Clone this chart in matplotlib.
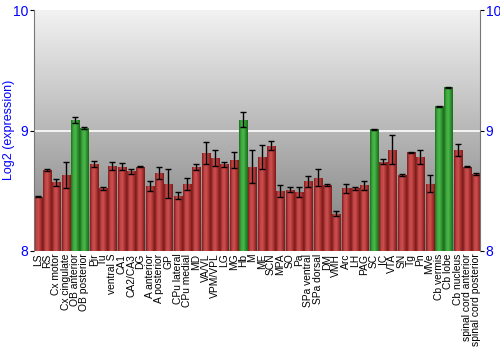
import numpy as np
import matplotlib
matplotlib.use("Agg")
import matplotlib.pyplot as plt
from matplotlib.colors import LinearSegmentedColormap
from matplotlib.patches import Rectangle

plt.rcParams["font.family"] = ["Liberation Sans", "DejaVu Sans"]

# regions and expression values (log2)
regions = [
    "LS", "RS", "Cx motor", "Cx cingulate", "OB anterior", "OB posterior",
    "Pir", "Tu", "ventral S", "CA1", "CA2/CA3", "DG", "A anterior",
    "A posterior", "GP", "CPu lateral", "CPu medial", "MD", "VA/VL",
    "VPM/VPL", "LG", "MG", "Hb", "M", "ME", "SCN", "MPA", "SO", "Pa",
    "SPa ventral", "SPa dorsal", "DM", "VMH", "Arc", "LH", "PAG", "SC",
    "IC", "VTA", "SN", "Tg", "Pn", "MVe", "Cb vermis", "Cb lobe",
    "Cb nucleus", "spinal cord anterior", "spinal cord posterior",
]
values = [
    8.45, 8.67, 8.57, 8.63, 9.09, 9.02,
    8.72, 8.52, 8.705, 8.70, 8.66, 8.70, 8.54,
    8.645, 8.56, 8.46, 8.56, 8.695, 8.815,
    8.77, 8.72, 8.755, 9.09, 8.70, 8.78, 8.875, 8.50, 8.51, 8.49,
    8.58, 8.61, 8.55, 8.31, 8.52, 8.52, 8.545, 9.01,
    8.74, 8.84, 8.63, 8.82, 8.78, 8.56, 9.20, 9.36,
    8.84, 8.70, 8.64,
]
errors = [
    0.005, 0.01, 0.03, 0.11, 0.025, 0.01,
    0.025, 0.01, 0.035, 0.03, 0.02, 0.005, 0.04,
    0.05, 0.12, 0.03, 0.05, 0.025, 0.09,
    0.065, 0.02, 0.07, 0.06, 0.135, 0.1, 0.035, 0.05, 0.02, 0.04,
    0.045, 0.07, 0.01, 0.02, 0.035, 0.01, 0.035, 0.005,
    0.02, 0.12, 0.005, 0.005, 0.055, 0.07, 0.005, 0.005,
    0.05, 0.005, 0.01,
]
highlight = ["OB anterior", "OB posterior", "Hb", "SC", "Cb vermis", "Cb lobe"]

red_cmap = LinearSegmentedColormap.from_list(
    "red", ["#7e1c1c", "#c04444", "#cc5050", "#a83030", "#7a1a1a"])
green_cmap = LinearSegmentedColormap.from_list(
    "green", ["#1c701c", "#3ea83e", "#4cb84c", "#2e922e", "#1a6a1a"])
bg_cmap = LinearSegmentedColormap.from_list("bg", ["#7c7c7c", "#f2f2f2"])

fig = plt.figure(figsize=(5, 3.5), dpi=100)
ax = fig.add_axes([0.068, 0.283, 0.892, 0.688])

n = len(regions)
x = np.arange(n)
width = 0.86
ymin, ymax = 8, 10

ax.set_xlim(-0.4, n - 0.6)
ax.set_ylim(ymin, ymax)

# background gradient
grad = np.linspace(0, 1, 256).reshape(-1, 1)
ax.imshow(grad, cmap=bg_cmap, origin="lower", aspect="auto",
          extent=[-0.4, n - 0.6, ymin, ymax], zorder=0)
ax.axhline(9, color="white", lw=1.2, zorder=1)

hgrad = np.linspace(0, 1, 64).reshape(1, -1)
for xi, name, v in zip(x, regions, values):
    cmap = green_cmap if name in highlight else red_cmap
    rect = Rectangle((xi - width / 2, ymin), width, v - ymin,
                     facecolor="none", edgecolor="none")
    ax.add_patch(rect)
    im = ax.imshow(hgrad, cmap=cmap, aspect="auto",
                   extent=[xi - width / 2, xi + width / 2, ymin, v], zorder=2)
    im.set_clip_path(rect)

ax.errorbar(x, values, yerr=errors, fmt="none", ecolor="black",
            elinewidth=1, capsize=2, capthick=1, zorder=3)

ax.set_xticks(x)
ax.set_xticklabels(regions, rotation=90, fontsize=7.4)
ax.tick_params(axis="x", length=0, pad=2)

ax.set_yticks([8, 9, 10])
ax.tick_params(axis="y", labelcolor="blue", labelsize=10, length=3,
               right=True, labelright=True, pad=1)

# y label placed by hand so it stays inside the figure
fig.text(9 / 500, 1 - 130 / 350, "Log2 (expression)", color="blue",
         fontsize=9, rotation=90, ha="center", va="center")

for s in ax.spines.values():
    s.set_color("#777777")
ax.spines["top"].set_visible(False)
ax.spines["bottom"].set_visible(False)

fig.savefig("out.png", dpi=100)
